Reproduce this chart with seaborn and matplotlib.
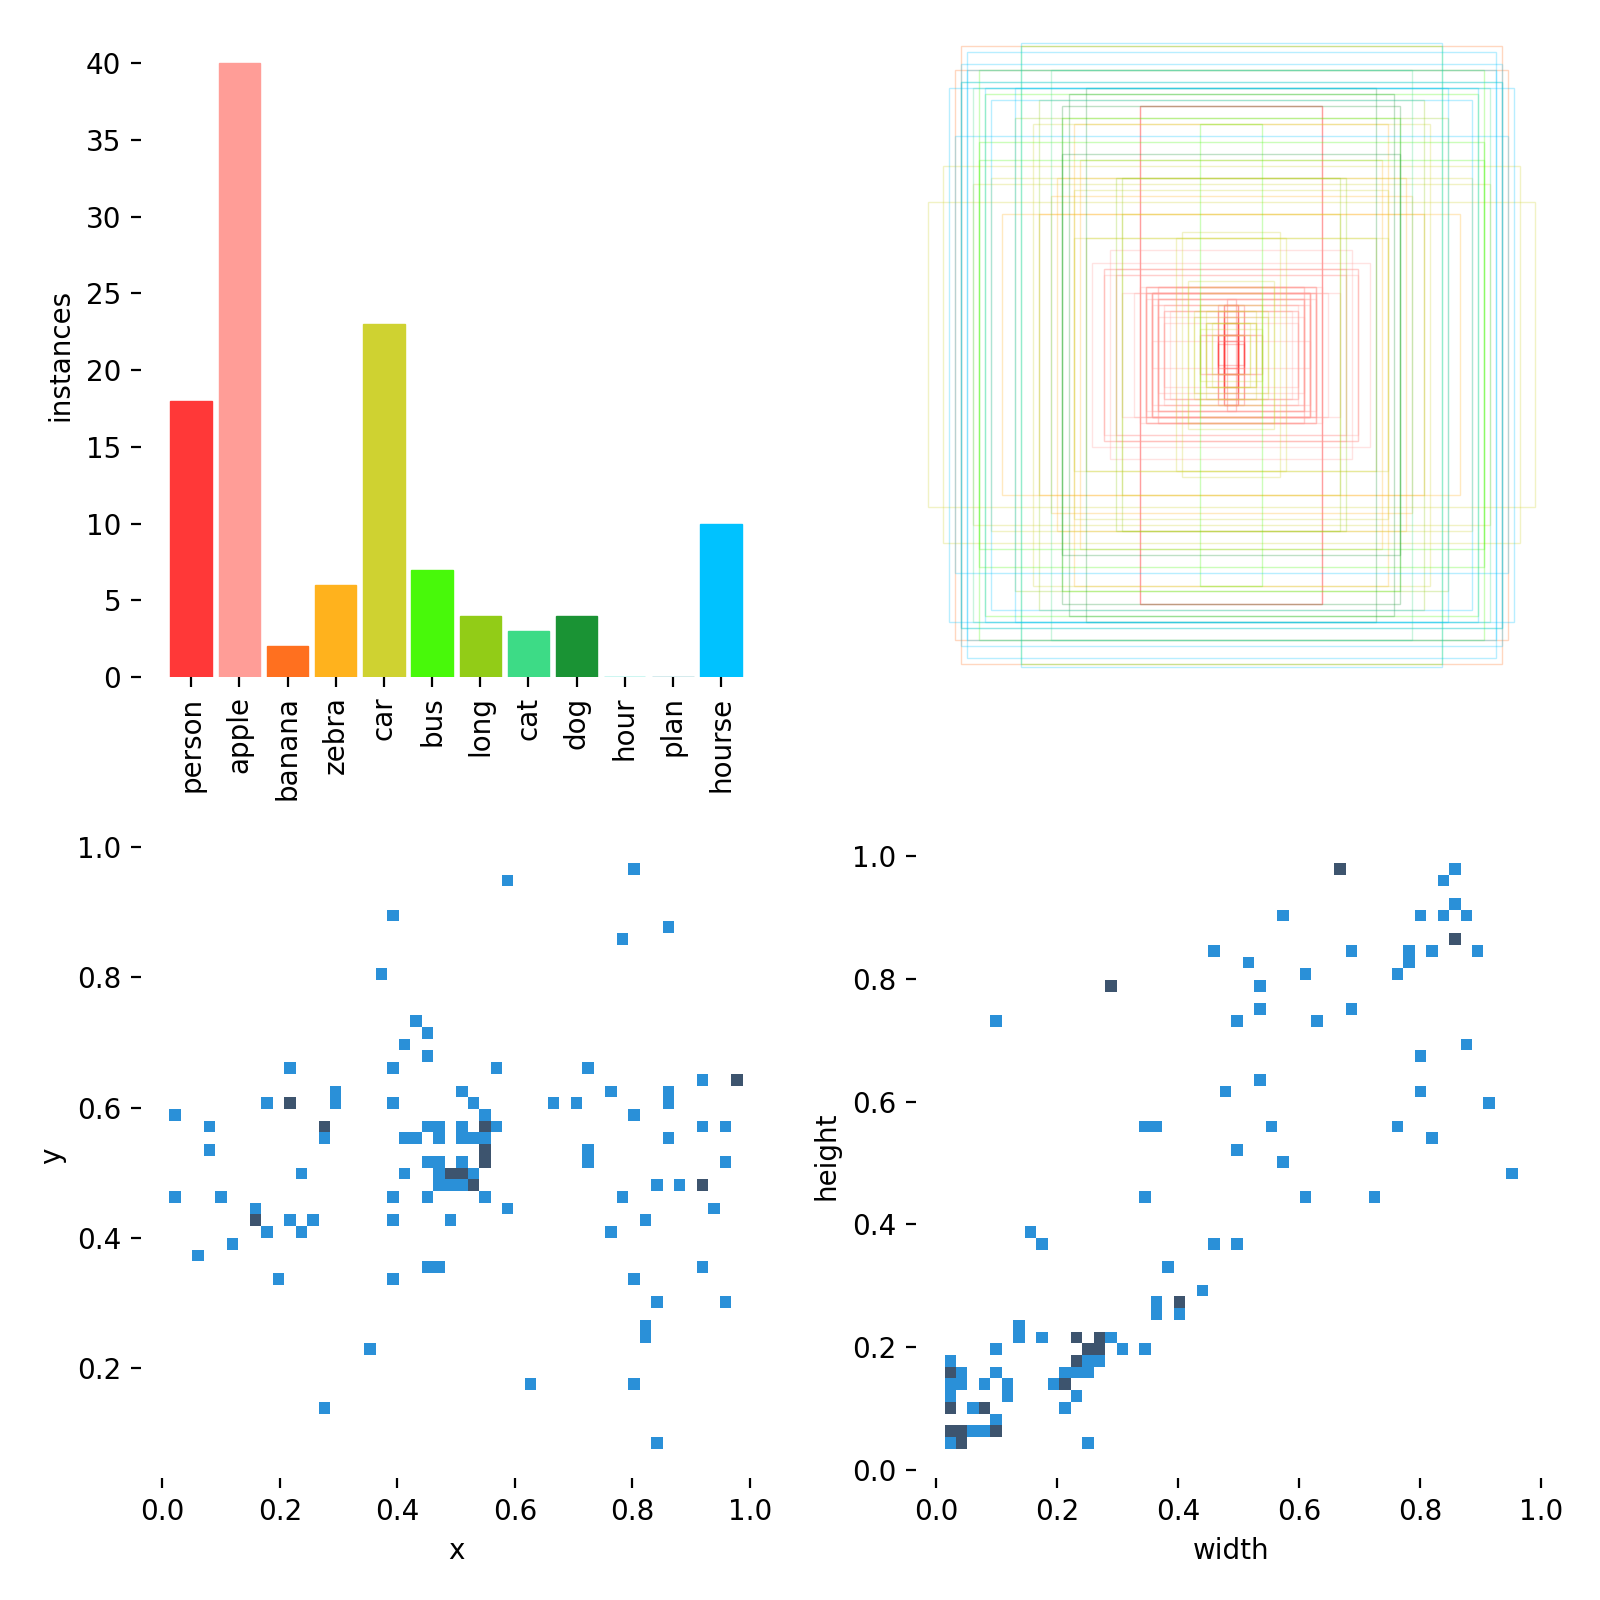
import numpy as np
import pandas as pd
import matplotlib
matplotlib.use('Agg')
import matplotlib.pyplot as plt
import seaborn as sns
from matplotlib.patches import Rectangle

# %%
names = ['person', 'apple', 'banana', 'zebra', 'car', 'bus', 'long', 'cat', 'dog', 'hour', 'plan', 'hourse']
colors = ['#FF3838', '#FF9D97', '#FF701F', '#FFB21D', '#CFD231', '#48F90A', '#92CC17', '#3DDB86',
          '#1A9334', '#00D4BB', '#2C99A8', '#00C2FF']

# label centres (normalised x, y)
label_x = [0.804, 0.588, 0.392, 0.862, 0.784, 0.372, 0.431, 0.451, 0.411, 0.451,
           0.216, 0.392, 0.569, 0.725, 0.920, 0.988, 0.988, 0.294, 0.510, 0.764,
           0.862, 0.294, 0.176, 0.216, 0.216, 0.392, 0.529, 0.666, 0.705, 0.862,
           0.012, 0.549, 0.804, 0.080, 0.275, 0.275, 0.452, 0.472, 0.510, 0.549,
           0.549, 0.569, 0.920, 0.960, 0.275, 0.413, 0.433, 0.472, 0.510, 0.529,
           0.549, 0.862, 0.080, 0.549, 0.549, 0.549, 0.725, 0.452, 0.472, 0.510,
           0.549, 0.549, 0.725, 0.960, 0.236, 0.413, 0.472, 0.492, 0.492, 0.510,
           0.510, 0.529, 0.472, 0.492, 0.510, 0.529, 0.529, 0.842, 0.881, 0.920,
           0.920, 0.020, 0.099, 0.392, 0.452, 0.549, 0.784, 0.157, 0.588, 0.940,
           0.157, 0.157, 0.216, 0.256, 0.392, 0.490, 0.823, 0.176, 0.236, 0.764,
           0.118, 0.060, 0.452, 0.471, 0.920, 0.196, 0.392, 0.804, 0.842, 0.960,
           0.823, 0.823, 0.353, 0.627, 0.804, 0.275, 0.842]
label_y = [0.976, 0.950, 0.896, 0.878, 0.860, 0.806, 0.733, 0.716, 0.698, 0.680,
           0.662, 0.662, 0.662, 0.662, 0.643, 0.643, 0.643, 0.625, 0.625, 0.625,
           0.625, 0.607, 0.607, 0.607, 0.607, 0.607, 0.607, 0.607, 0.607, 0.607,
           0.589, 0.589, 0.589, 0.571, 0.571, 0.571, 0.571, 0.571, 0.571, 0.571,
           0.571, 0.571, 0.571, 0.571, 0.553, 0.553, 0.553, 0.553, 0.553, 0.553,
           0.553, 0.553, 0.535, 0.535, 0.535, 0.535, 0.535, 0.517, 0.517, 0.517,
           0.517, 0.517, 0.517, 0.517, 0.500, 0.500, 0.500, 0.500, 0.500, 0.500,
           0.500, 0.500, 0.482, 0.482, 0.482, 0.482, 0.482, 0.482, 0.482, 0.482,
           0.482, 0.464, 0.464, 0.464, 0.464, 0.464, 0.464, 0.446, 0.446, 0.446,
           0.428, 0.428, 0.428, 0.428, 0.428, 0.428, 0.428, 0.410, 0.410, 0.410,
           0.392, 0.373, 0.356, 0.356, 0.356, 0.338, 0.338, 0.338, 0.301, 0.301,
           0.266, 0.248, 0.229, 0.174, 0.174, 0.139, 0.076]

# box sizes (normalised width, height), grouped by class
box_w = [
    # person (18)
    0.014, 0.023, 0.023, 0.042, 0.023, 0.042, 0.023, 0.023, 0.023, 0.023,
    0.023, 0.042, 0.042, 0.023, 0.042, 0.042, 0.289, 0.289,
    # apple (40)
    0.383, 0.440, 0.175, 0.232, 0.232, 0.270, 0.270, 0.270, 0.289, 0.364,
    0.251, 0.251, 0.251, 0.251, 0.251, 0.270, 0.270, 0.307, 0.345, 0.232,
    0.232, 0.232, 0.251, 0.270, 0.213, 0.232, 0.251, 0.194, 0.213, 0.213,
    0.232, 0.364, 0.403, 0.403, 0.213, 0.403, 0.080, 0.099, 0.099, 0.251,
    # banana (2)
    0.858, 0.877,
    # zebra (6)
    0.498, 0.479, 0.554, 0.573, 0.611, 0.726,
    # car (23)
    0.099, 0.118, 0.118, 0.080, 0.061, 0.630, 0.915, 0.763, 0.820, 0.498,
    0.962, 0.345, 0.156, 0.175, 0.460, 0.498, 0.137, 0.137, 0.099, 0.061,
    0.080, 0.080, 0.099,
    # bus (7)
    0.668, 0.801, 0.782, 0.536, 0.099, 0.801, 0.801,
    # long (4)
    0.611, 0.687, 0.346, 0.365,
    # cat (3)
    0.573, 0.858, 0.820,
    # dog (4)
    0.460, 0.516, 0.536, 0.536,
    # hourse (10)
    0.668, 0.839, 0.858, 0.839, 0.858, 0.687, 0.782, 0.896, 0.763, 0.877,
]
box_h = [
    # person
    0.177, 0.158, 0.158, 0.158, 0.139, 0.139, 0.120, 0.101, 0.101, 0.061,
    0.061, 0.061, 0.061, 0.042, 0.034, 0.042, 0.790, 0.790,
    # apple
    0.331, 0.292, 0.215, 0.215, 0.215, 0.215, 0.215, 0.215, 0.215, 0.273,
    0.196, 0.196, 0.196, 0.196, 0.196, 0.196, 0.196, 0.196, 0.196, 0.177,
    0.177, 0.177, 0.177, 0.177, 0.158, 0.158, 0.158, 0.139, 0.139, 0.139,
    0.120, 0.254, 0.273, 0.273, 0.101, 0.254, 0.061, 0.061, 0.061, 0.042,
    # banana
    0.980, 0.904,
    # zebra
    0.732, 0.617, 0.559, 0.502, 0.445, 0.445,
    # car
    0.158, 0.139, 0.120, 0.139, 0.061, 0.732, 0.598, 0.559, 0.540, 0.521,
    0.483, 0.445, 0.388, 0.369, 0.369, 0.369, 0.234, 0.215, 0.196, 0.101,
    0.101, 0.101, 0.082,
    # bus
    0.980, 0.904, 0.828, 0.750, 0.732, 0.674, 0.617,
    # long
    0.809, 0.750, 0.559, 0.559,
    # cat
    0.904, 0.866, 0.847,
    # dog
    0.847, 0.828, 0.790, 0.636,
    # hourse
    0.989, 0.961, 0.923, 0.904, 0.866, 0.847, 0.847, 0.847, 0.809, 0.693,
]
box_cls = (['person'] * 18 + ['apple'] * 40 + ['banana'] * 2 + ['zebra'] * 6 + ['car'] * 23
           + ['bus'] * 7 + ['long'] * 4 + ['cat'] * 3 + ['dog'] * 4 + ['hourse'] * 10)

# %%
labels = pd.DataFrame({'cls': box_cls, 'width': box_w, 'height': box_h})
centres = pd.DataFrame({'x': label_x, 'y': label_y})
instances = labels['cls'].value_counts().reindex(names, fill_value=0)

fig, ax = plt.subplots(2, 2, figsize=(8, 8))
fig.subplots_adjust(left=0.088, right=0.9666, bottom=0.0762, top=0.9797, wspace=0.229, hspace=0.243)
ax = ax.ravel()

# class instances
sns.barplot(x=names, y=instances.values, hue=names, palette=colors, legend=False,
            width=0.86, saturation=1, ax=ax[0])
for p in ax[0].patches:
    p.set_edgecolor(p.get_facecolor())
    p.set_linewidth(0.5)
ax[0].set_xlim(-1.045, 12.045)
ax[0].set_ylabel('instances')
ax[0].set_xticks(range(len(names)))
ax[0].set_xticklabels(names, rotation=90, fontsize=10)

# boxes drawn around a common centre
for w, h, c in zip(box_w, box_h, box_cls):
    ax[1].add_patch(Rectangle((0.5 - w / 2, 0.5 - h / 2), w, h, fill=False, lw=0.5,
                              alpha=0.28, edgecolor=colors[names.index(c)]))
ax[1].set_xlim(0, 1)
ax[1].set_ylim(1, 0)
ax[1].set_aspect('equal')
ax[1].axis('off')

sns.histplot(centres, x='x', y='y', ax=ax[2], bins=50, pmax=0.9)
sns.histplot(labels, x='width', y='height', ax=ax[3], bins=50, pmax=0.9)

for a in ax:
    for s in ['top', 'right', 'left', 'bottom']:
        a.spines[s].set_visible(False)

fig.savefig('out.png', dpi=200)
